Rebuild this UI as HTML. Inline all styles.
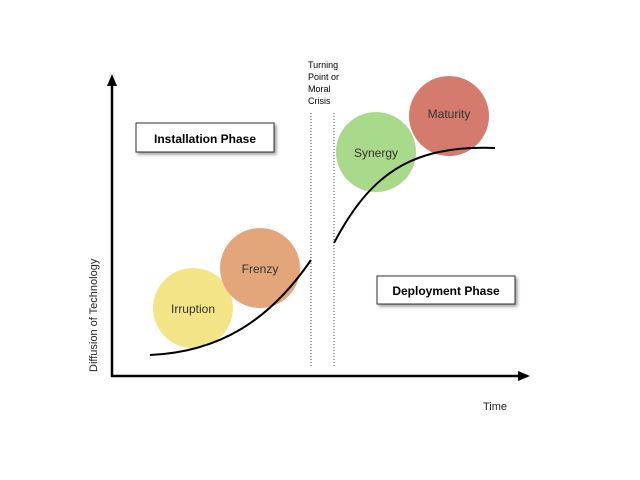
<!DOCTYPE html>
<html><head><style>body{margin:0;background:#fff}svg{display:block}text{font-family:"Liberation Sans",sans-serif}</style></head><body>
<svg width="640" height="480" viewBox="0 0 640 480">
<defs><filter id="s" x="-10%" y="-20%" width="130%" height="160%"><feDropShadow dx="2" dy="2" stdDeviation="1.5" flood-color="#000" flood-opacity="0.4"/></filter></defs>
<line x1="112" y1="377" x2="112" y2="84" stroke="#000" stroke-width="2.5"/>
<polygon points="112,74 107,86 117,86" fill="#000"/>
<line x1="111" y1="376" x2="520" y2="376" stroke="#000" stroke-width="2.5"/>
<polygon points="530,376 518,371 518,381" fill="#000"/>
<line x1="311" y1="113" x2="311" y2="367" stroke="#444" stroke-dasharray="1,2"/>
<line x1="334" y1="113" x2="334" y2="367" stroke="#444" stroke-dasharray="1,2"/>
<text x="308" y="68" font-size="9">Turning</text>
<text x="308" y="80" font-size="9">Point or</text>
<text x="308" y="92" font-size="9">Moral</text>
<text x="308" y="104" font-size="9">Crisis</text>
<rect x="136" y="123" width="138" height="29" fill="#fff" stroke="#333" filter="url(#s)"/>
<text x="205" y="143" font-size="12" font-weight="bold" text-anchor="middle">Installation Phase</text>
<rect x="377" y="276" width="138" height="28" fill="#fff" stroke="#333" filter="url(#s)"/>
<text x="446" y="295" font-size="12" font-weight="bold" text-anchor="middle">Deployment Phase</text>
<circle cx="193" cy="308" r="40" fill="#f4e488"/>
<circle cx="260" cy="268" r="40" fill="#e2a174" fill-opacity="0.95"/>
<circle cx="376" cy="152" r="40" fill="#a9d98a"/>
<circle cx="449" cy="116" r="40" fill="#d57b6e"/>
<path d="M150,355 C220,352 270,320 311,260" fill="none" stroke="#000" stroke-width="2"/>
<path d="M334,243 C370,175 410,145 495,148" fill="none" stroke="#000" stroke-width="2"/>
<text x="193" y="313" font-size="12" text-anchor="middle" fill="#333">Irruption</text>
<text x="260" y="273" font-size="12" text-anchor="middle" fill="#333">Frenzy</text>
<text x="376" y="157" font-size="12" text-anchor="middle" fill="#333">Synergy</text>
<text x="449" y="118" font-size="12" text-anchor="middle" fill="#333">Maturity</text>
<text x="483" y="410" font-size="11" fill="#222">Time</text>
<text transform="translate(97,372) rotate(-90)" font-size="11" fill="#222">Diffusion of Technology</text>
</svg>
</body></html>
